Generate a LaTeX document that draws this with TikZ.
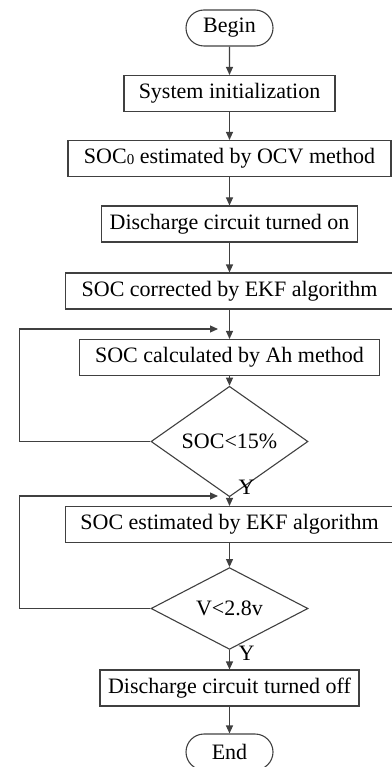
\documentclass[tikz,border=0pt]{standalone}
\usepackage{fontspec}
\setmainfont{Liberation Serif}
\usetikzlibrary{shapes.geometric,shapes.misc,arrows.meta}
\begin{document}
\begin{tikzpicture}[x=1pt,y=-1pt,
  every node/.style={font=\fontsize{22}{24}\selectfont, text=black},
  line/.style={draw=black!75, line width=1.1pt},
  procbox/.style={line, rectangle, minimum height=36pt, inner sep=0pt},
  term/.style={line, rounded rectangle, minimum width=87pt, minimum height=36pt, inner sep=0pt},
  decide/.style={line, diamond, minimum width=157pt, minimum height=65pt, inner sep=0pt},
  arr/.style={draw=black!75, line width=1.1pt, -{Triangle[length=8pt,width=7pt]}}]
\useasboundingbox (0,0) rectangle (391,767);
\node[term] (begin) at (229.5,28) {Begin};
\node[procbox, minimum width=211pt] (init) at (229.5,93.5) {System initialization};
\node[procbox, minimum width=323pt] (soc0) at (229.5,158.5) {SOC\raisebox{-0.5pt}{\fontsize{15}{15}\selectfont 0} estimated by OCV method};
\node[procbox, minimum width=256pt] (on) at (229.5,224) {Discharge circuit turned on};
\node[procbox, minimum width=328pt] (corr) at (229.5,291) {SOC corrected by EKF algorithm};
\node[procbox, minimum width=300pt] (ah) at (229.5,357.5) {SOC calculated by Ah method};
\node[decide] (d1) at (229.5,441.5) {SOC<15\%};
\node[procbox, minimum width=328pt] (ekf) at (229.5,524.5) {SOC estimated by EKF algorithm};
\node[decide] (d2) at (229.5,608.5) {V<2.8v};
\node[procbox, minimum width=259pt] (off) at (229.5,688) {Discharge circuit turned off};
\node[term] (end) at (229.5,752) {End};
\node (y1) at (246.5,487) {Y};
\node (y2) at (246.5,653) {Y};
\coordinate (t1) at (218,329);
\coordinate (t2) at (218,496);
\draw[arr] (begin) -- (init);
\draw[arr] (init) -- (soc0);
\draw[arr] (soc0) -- (on);
\draw[arr] (on) -- (corr);
\draw[arr] (corr) -- (ah);
\draw[arr] (ah) -- (d1);
\draw[arr] (d1) -- (ekf);
\draw[arr] (ekf) -- (d2);
\draw[arr] (d2) -- (off);
\draw[arr] (off) -- (end);
\draw[arr] (d1.west) -- ++(-131,0) |- (t1);
\draw[arr] (d2.west) -- ++(-131,0) |- (t2);
\end{tikzpicture}
\end{document}
